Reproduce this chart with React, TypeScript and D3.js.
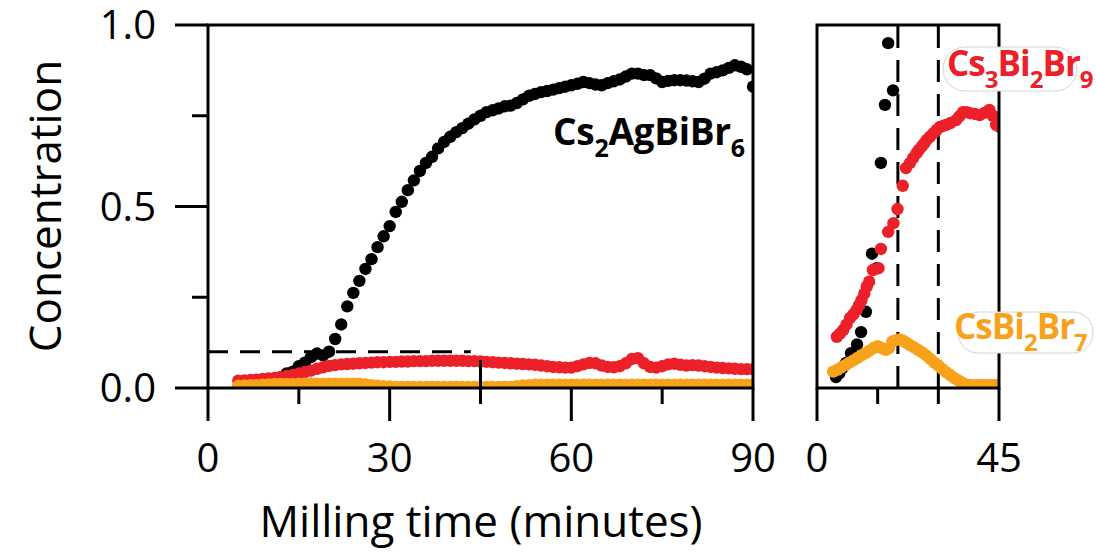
import React from "react";
import * as d3 from "d3";

// ---------- Data ----------
// Left panel: sampled every minute
const blackLStart = 12;
const blackL = [
  0.03, 0.04, 0.045, 0.06, 0.07, 0.085, 0.095, 0.09, 0.1, 0.135, 0.175, 0.225, 0.262, 0.295, 0.328, 0.355, 0.388, 0.418,
  0.446, 0.485, 0.513, 0.545, 0.572, 0.598, 0.62, 0.637, 0.66, 0.678, 0.692, 0.705, 0.716, 0.728, 0.74, 0.75, 0.76,
  0.765, 0.77, 0.776, 0.778, 0.785, 0.795, 0.805, 0.81, 0.815, 0.818, 0.822, 0.826, 0.83, 0.834, 0.838, 0.843, 0.84,
  0.836, 0.834, 0.84, 0.845, 0.85, 0.858, 0.866, 0.866, 0.862, 0.862, 0.853, 0.843, 0.846, 0.848, 0.848, 0.847, 0.845,
  0.843, 0.852, 0.866, 0.87, 0.875, 0.882, 0.889, 0.885, 0.878, 0.83,
];
const redLStart = 5;
const redL = [
  0.02, 0.021, 0.022, 0.023, 0.025, 0.026, 0.028, 0.03, 0.033, 0.036, 0.04, 0.044, 0.048, 0.053, 0.057, 0.061, 0.063,
  0.065, 0.066, 0.067, 0.068, 0.069, 0.07, 0.071, 0.071, 0.072, 0.072, 0.073, 0.073, 0.074, 0.074, 0.074, 0.075, 0.075,
  0.075, 0.075, 0.075, 0.075, 0.074, 0.074, 0.073, 0.072, 0.071, 0.07, 0.069, 0.068, 0.067, 0.066, 0.065, 0.064, 0.062,
  0.06, 0.058, 0.057, 0.056, 0.056, 0.06, 0.065, 0.069, 0.068, 0.062, 0.058, 0.057, 0.06, 0.068, 0.08, 0.082, 0.068,
  0.058, 0.056, 0.06, 0.065, 0.067, 0.064, 0.062, 0.063, 0.062, 0.06, 0.058, 0.056, 0.055, 0.054, 0.053, 0.052, 0.052,
  0.052,
];
const orangeLStart = 5;
const orangeL = [
  0.006, 0.007, 0.008, 0.008, 0.009, 0.01, 0.011, 0.011, 0.011, 0.011, 0.012, 0.012, 0.012, 0.012, 0.012, 0.012, 0.012,
  0.012, 0.012, 0.012, 0.012, 0.01, 0.008, 0.006, 0.005, 0.004, 0.003, 0.003, 0.003, 0.003, 0.003, 0.003, 0.003, 0.003,
  0.003, 0.003, 0.003, 0.003, 0.003, 0.003, 0.003, 0.003, 0.003, 0.003, 0.003, 0.003, 0.005, 0.007, 0.008, 0.009, 0.009,
  0.009, 0.009, 0.009, 0.009, 0.009, 0.009, 0.009, 0.009, 0.009, 0.009, 0.009, 0.009, 0.009, 0.009, 0.009, 0.009, 0.009,
  0.009, 0.009, 0.009, 0.009, 0.009, 0.009, 0.009, 0.009, 0.009, 0.009, 0.009, 0.009, 0.009, 0.009, 0.009, 0.009, 0.009,
  0.009,
];

// Right panel: [time, concentration]
const blackR: [number, number][] = [
  [4.7, 0.03], [5.5, 0.04], [6.3, 0.055], [7.2, 0.069], [8.4, 0.096], [9.9, 0.12], [10.9, 0.154], [12.1, 0.21],
  [13.6, 0.37], [14.8, 0.33], [15.8, 0.62], [16.8, 0.78], [17.6, 0.95], [18.8, 0.82],
];
const redR: [number, number][] = [
  [4.9, 0.141], [5.7, 0.15], [6.5, 0.16], [7.3, 0.175], [8.2, 0.193], [9.0, 0.203], [9.8, 0.215], [10.4, 0.228],
  [11.0, 0.242], [11.7, 0.26], [12.3, 0.279], [12.9, 0.293], [13.8, 0.325], [15.2, 0.33], [15.8, 0.383], [17.6, 0.43],
  [18.9, 0.454], [19.9, 0.493], [21.2, 0.557], [22.0, 0.606], [23.0, 0.62], [23.8, 0.634], [24.6, 0.647], [25.2, 0.656],
  [25.9, 0.665], [26.5, 0.674], [27.1, 0.683], [27.9, 0.692], [28.8, 0.702], [29.6, 0.711], [30.4, 0.719], [31.2, 0.722],
  [31.9, 0.725], [33.0, 0.73], [34.4, 0.738], [35.2, 0.748], [36.1, 0.76], [37.0, 0.76], [37.8, 0.757], [39.0, 0.755],
  [40.2, 0.752], [41.4, 0.758], [42.6, 0.766], [43.5, 0.75], [44.3, 0.725], [45.0, 0.72],
];
const orangeR: [number, number][] = [
  [4.0, 0.045], [5, 0.05], [6, 0.057], [7, 0.063], [8, 0.07], [9, 0.076], [10, 0.083], [11, 0.09], [12, 0.096],
  [13, 0.103], [14, 0.11], [15, 0.115], [16, 0.11], [17, 0.105], [17.8, 0.11], [18.6, 0.128], [19.5, 0.132],
  [20.4, 0.134], [21.3, 0.13], [22.2, 0.124], [23, 0.118], [24, 0.112], [25, 0.105], [26, 0.098], [27, 0.09], [28, 0.08],
  [29, 0.07], [30, 0.062], [31, 0.052], [32, 0.043], [33, 0.035], [34, 0.027], [35, 0.02], [36, 0.014], [37, 0.01],
  [38, 0.008], [39, 0.008], [40, 0.008], [41, 0.008], [42, 0.008], [43, 0.008], [44, 0.008], [45, 0.008],
];

const xTicksL = [0, 15, 30, 45, 60, 75, 90];
const xLabelsL = [0, 30, 60, 90];
const xTicksR = [0, 15, 30, 45];
const xLabelsR = [0, 45];
const yTicks = [0, 0.25, 0.5, 0.75, 1];
const yLabels = [0, 0.5, 1];
const thresholdY = 0.1;
const thresholdEndT = 43.4;
const markerT = 45;
const markerY = 0.077;
const dashedR = [20, 30];

const RED = "#ec2028";
const ORANGE = "#f8a21c";

export default function App() {
  const xL = d3.scaleLinear().domain([0, 90]).range([208, 753]);
  const xR = d3.scaleLinear().domain([0, 45]).range([817, 999]);
  const y = d3.scaleLinear().domain([0, 1]).range([388, 25]);
  const r = 6.2;
  const fmt = d3.format(".1f");
  const font = "'Open Sans', sans-serif";

  const seriesL = (vals: number[], start: number) => vals.map((v, i) => [start + i, v] as [number, number]);

  const dots = (pts: [number, number][], xs: d3.ScaleLinear<number, number>, color: string) =>
    pts.map((p, i) => <circle key={i} cx={xs(p[0])} cy={y(p[1])} r={r} fill={color} />);

  const sub = (s: string, size: number) => (
    <tspan dy={12} fontSize={size}>
      {s}
    </tspan>
  );

  const isMajorY = (v: number) => Math.abs(v * 2 - Math.round(v * 2)) < 1e-9;

  return (
    <svg width={1096} height={555} style={{ position: "absolute", left: 0, top: 0, background: "#fff" }}>
      <defs>
        <clipPath id="clipL">
          <rect x={xL(0)} y={y(1)} width={xL(90) - xL(0)} height={y(0) - y(1)} />
        </clipPath>
        <clipPath id="clipR">
          <rect x={xR(0)} y={y(1)} width={xR(45) - xR(0)} height={y(0) - y(1)} />
        </clipPath>
      </defs>

      {/* left panel data */}
      <g clipPath="url(#clipL)">
        <line x1={xL(0)} x2={xL(thresholdEndT)} y1={y(thresholdY)} y2={y(thresholdY)} stroke="#000" strokeWidth={3} strokeDasharray="20,12" />
        {dots(seriesL(blackL, blackLStart), xL, "#000")}
        {dots(seriesL(redL, redLStart), xL, RED)}
        {dots(seriesL(orangeL, orangeLStart), xL, ORANGE)}
      </g>
      <line x1={xL(markerT)} x2={xL(markerT)} y1={y(markerY)} y2={y(0)} stroke="#000" strokeWidth={3} />

      {/* right panel data */}
      <g clipPath="url(#clipR)">
        {dashedR.map((t) => (
          <line key={t} x1={xR(t)} x2={xR(t)} y1={y(0)} y2={y(1)} stroke="#000" strokeWidth={3} strokeDasharray="22,12" />
        ))}
        {dots(blackR, xR, "#000")}
        {dots(redR, xR, RED)}
        {dots(orangeR, xR, ORANGE)}
      </g>

      {/* frames */}
      <rect x={xL(0)} y={y(1)} width={xL(90) - xL(0)} height={y(0) - y(1)} fill="none" stroke="#000" strokeWidth={3} />
      <rect x={xR(0)} y={y(1)} width={xR(45) - xR(0)} height={y(0) - y(1)} fill="none" stroke="#000" strokeWidth={3} />

      {/* x ticks */}
      {xTicksL.map((t) => (
        <line key={"xl" + t} x1={xL(t)} x2={xL(t)} y1={y(0)} y2={y(0) + (t % 30 === 0 ? 33 : 16)} stroke="#000" strokeWidth={3} />
      ))}
      {xTicksR.map((t) => (
        <line key={"xr" + t} x1={xR(t)} x2={xR(t)} y1={y(0)} y2={y(0) + (t % 45 === 0 ? 33 : 16)} stroke="#000" strokeWidth={3} />
      ))}
      {/* y ticks */}
      {yTicks.map((v) => (
        <line key={"y" + v} x1={xL(0)} x2={xL(0) - (isMajorY(v) ? 33 : 16)} y1={y(v)} y2={y(v)} stroke="#000" strokeWidth={3} />
      ))}

      {/* tick labels */}
      <g fontFamily={font} fontSize={40} fill="#000">
        {xLabelsL.map((t) => (
          <text key={"lx" + t} x={xL(t)} y={472} textAnchor="middle">
            {t}
          </text>
        ))}
        {xLabelsR.map((t) => (
          <text key={"rx" + t} x={xR(t)} y={472} textAnchor="middle">
            {t}
          </text>
        ))}
        {yLabels.map((v) => (
          <text key={"ly" + v} x={156} y={y(v) + 14} textAnchor="end">
            {fmt(v)}
          </text>
        ))}
      </g>

      {/* axis titles */}
      <text x={481} y={537} textAnchor="middle" fontFamily={font} fontSize={44}>
        Milling time (minutes)
      </text>
      <text transform="translate(61,206) rotate(-90)" textAnchor="middle" fontFamily={font} fontSize={44}>
        Concentration
      </text>

      {/* compound labels */}
      <text x={553} y={145} fontFamily={font} fontWeight={700} fontSize={37} fill="#000" letterSpacing={-0.3}>
        Cs{sub("2", 25)}
        <tspan dy={-12}>AgBiBr</tspan>
        {sub("6", 25)}
      </text>

      <rect x={943} y={47} width={134} height={44} rx={22} fill="#fff" stroke="#d4d4d4" strokeWidth={1} />
      <text x={947} y={76} fontFamily={font} fontWeight={700} fontSize={35} fill={RED} letterSpacing={-1}>
        Cs{sub("3", 24)}
        <tspan dy={-12}>Bi</tspan>
        {sub("2", 24)}
        <tspan dy={-12}>Br</tspan>
        {sub("9", 24)}
      </text>

      <rect x={958} y={312} width={135} height={41} rx={20} fill="#fff" stroke="#d4d4d4" strokeWidth={1} />
      <text x={954} y={339} fontFamily={font} fontWeight={700} fontSize={35} fill={ORANGE} letterSpacing={-1}>
        CsBi{sub("2", 24)}
        <tspan dy={-12}>Br</tspan>
        {sub("7", 24)}
      </text>
    </svg>
  );
}
